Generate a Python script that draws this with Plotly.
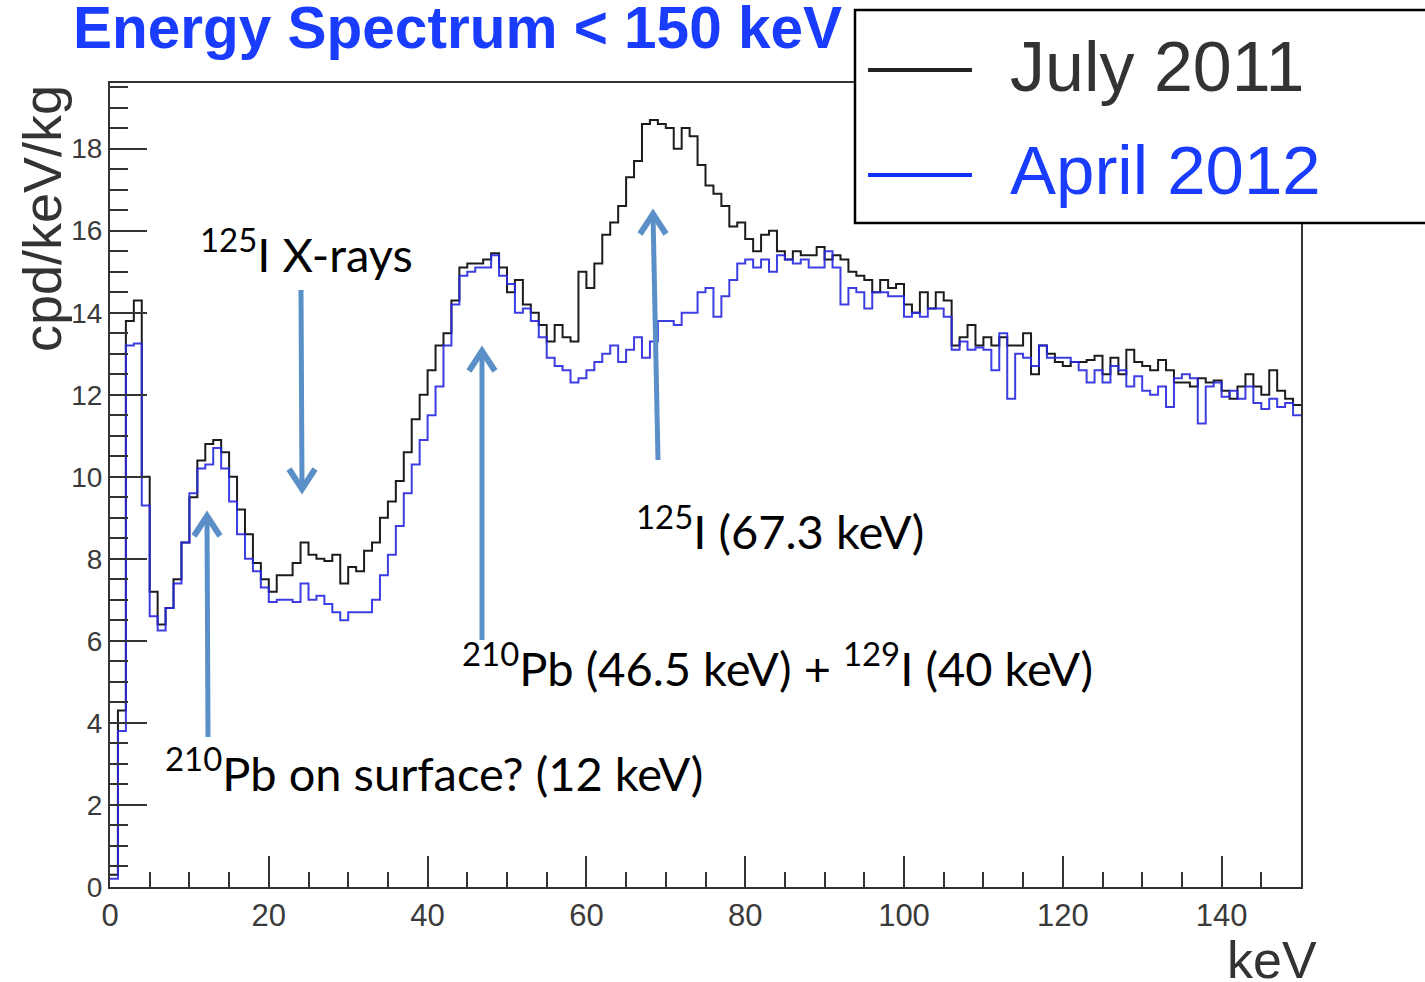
import numpy as np
import plotly.graph_objects as go

# ---------------- data (1 keV bins, 0-150 keV) ----------------
bin_width_kev = 1.0
july_2011 = [
    0.3, 4.3, 13.8, 14.3, 10.0, 7.2, 6.4, 6.8, 7.5, 8.4,
    9.5, 10.4, 10.8, 10.9, 10.6, 10.0, 9.2, 8.6, 7.9, 7.5,
    7.2, 7.6, 7.6, 7.9, 8.4, 8.1, 8.0, 7.95, 8.1, 7.4,
    7.8, 7.7, 8.2, 8.4, 9.0, 9.4, 9.9, 10.6, 11.4, 12.0,
    12.6, 13.2, 13.5, 14.3, 15.1, 15.2, 15.2, 15.3, 15.45, 15.1,
    14.5, 14.8, 14.2, 14.0, 13.7, 13.3, 13.7, 13.4, 13.3, 15.0,
    14.6, 15.2, 15.9, 16.2, 16.6, 17.3, 17.7, 18.6, 18.7, 18.6,
    18.5, 18.0, 18.5, 18.3, 17.6, 17.1, 16.9, 16.6, 16.1, 16.2,
    15.8, 15.5, 15.9, 16.0, 15.5, 15.3, 15.5, 15.4, 15.4, 15.6,
    15.3, 15.4, 15.3, 15.0, 14.9, 14.8, 14.5, 14.8, 14.6, 14.7,
    14.2, 14.0, 14.5, 14.1, 14.5, 14.3, 13.2, 13.4, 13.7, 13.2,
    13.4, 13.2, 13.4, 13.2, 13.2, 13.5, 12.5, 13.2, 13.0, 12.8,
    12.7, 12.8, 12.8, 12.85, 12.95, 12.5, 12.9, 12.5, 13.1, 12.8,
    12.7, 12.6, 12.85, 12.6, 12.3, 12.3, 12.2, 12.4, 12.3, 12.35,
    12.1, 11.9, 12.2, 12.5, 12.2, 12.0, 12.6, 12.1, 11.9, 11.75,
]
april_2012 = [
    0.2, 3.8, 13.2, 13.25, 9.3, 6.6, 6.25, 6.8, 7.4, 8.4,
    9.6, 10.2, 10.3, 10.7, 10.2, 9.4, 8.6, 8.0, 7.7, 7.3,
    6.95, 7.0, 7.0, 6.95, 7.4, 7.0, 7.1, 6.9, 6.7, 6.5,
    6.7, 6.7, 6.7, 7.0, 7.6, 8.1, 8.8, 9.6, 10.3, 10.9,
    11.5, 12.2, 13.2, 14.2, 14.9, 15.0, 15.1, 15.1, 15.4, 14.9,
    14.7, 14.0, 14.1, 13.8, 13.4, 12.9, 12.7, 12.6, 12.3, 12.4,
    12.6, 12.8, 13.0, 13.2, 12.8, 13.1, 13.4, 12.9, 13.3, 13.8,
    13.8, 13.7, 14.0, 14.0, 14.5, 14.6, 13.9, 14.4, 14.8, 15.2,
    15.3, 15.1, 15.3, 15.0, 15.4, 15.3, 15.2, 15.3, 15.1, 15.1,
    15.5, 15.1, 14.2, 14.6, 14.5, 14.1, 14.5, 14.5, 14.4, 14.4,
    13.9, 14.0, 13.9, 14.1, 14.1, 13.9, 13.1, 13.3, 13.1, 13.15,
    13.1, 12.6, 13.5, 11.9, 13.0, 12.9, 12.7, 13.2, 12.9, 12.9,
    12.9, 12.8, 12.6, 12.3, 12.6, 12.3, 12.7, 12.6, 12.2, 12.45,
    12.1, 12.0, 12.2, 11.7, 12.4, 12.5, 12.4, 11.3, 12.2, 12.3,
    11.95, 12.1, 11.9, 12.2, 11.8, 11.65, 11.9, 11.7, 11.8, 11.5,
]
x_tick_vals = [0, 20, 40, 60, 80, 100, 120, 140]
y_tick_vals = [0, 2, 4, 6, 8, 10, 12, 14, 16, 18]
series_names = ["July 2011", "April 2012"]

# ---------------- geometry helpers (pixel -> paper) ----------------
W, H = 1425, 982
L, R, T, B = 110, 1301, 83, 887


def pxx(x):
    return (x - L) / (R - L)


def pxy(y):
    return (B - y) / (B - T)


edges = np.arange(len(july_2011) + 1) * bin_width_kev

BLACK = "#1c1c1c"
BLUE = "rgba(40,40,225,0.9)"
ARROW = "#5b8fc7"
AXIS = "#333333"

fig = go.Figure()
fig.add_trace(go.Scatter(x=edges, y=july_2011 + [july_2011[-1]], mode="lines",
                         line=dict(color=BLACK, width=2, shape="hv"),
                         name=series_names[0], showlegend=False))
fig.add_trace(go.Scatter(x=edges, y=april_2012 + [april_2012[-1]], mode="lines",
                         line=dict(color=BLUE, width=2, shape="hv"),
                         name=series_names[1], showlegend=False))

tickfont_x = dict(family="Liberation Sans, Arial, sans-serif", size=31, color="#3a3a3a")
tickfont_y = dict(family="Liberation Sans, Arial, sans-serif", size=28, color="#3a3a3a")

fig.update_layout(
    width=W, height=H,
    margin=dict(l=L, r=W - R, t=T, b=H - B, pad=0),
    paper_bgcolor="white", plot_bgcolor="white",
    showlegend=False,
    xaxis=dict(range=[0, 150], tickvals=x_tick_vals, ticks="inside", ticklen=31,
               tickwidth=2, tickcolor=AXIS, showline=True, linecolor=AXIS, linewidth=2,
               mirror=True, showgrid=False, zeroline=False, tickfont=tickfont_x,
               minor=dict(dtick=5, ticks="inside", ticklen=15, tickwidth=2,
                          tickcolor=AXIS, showgrid=False)),
    yaxis=dict(range=[0, 19.6], tickvals=y_tick_vals, ticks="inside", ticklen=37,
               tickwidth=2, tickcolor=AXIS, showline=True, linecolor=AXIS, linewidth=2,
               mirror=True, showgrid=False, zeroline=False, tickfont=tickfont_y,
               minor=dict(dtick=0.5, ticks="inside", ticklen=18, tickwidth=2,
                          tickcolor=AXIS, showgrid=False)),
)

shapes = []
annotations = []

# ---------- legend box ----------
shapes.append(dict(type="rect", xref="paper", yref="paper", layer="above",
                   x0=pxx(855), x1=pxx(1440), y0=pxy(223), y1=pxy(10),
                   line=dict(color="black", width=2.5), fillcolor="white"))
shapes.append(dict(type="line", xref="paper", yref="paper", layer="above",
                   x0=pxx(868), x1=pxx(972), y0=pxy(70), y1=pxy(70),
                   line=dict(color="#222222", width=4)))
shapes.append(dict(type="line", xref="paper", yref="paper", layer="above",
                   x0=pxx(868), x1=pxx(972), y0=pxy(175), y1=pxy(175),
                   line=dict(color="#1030ff", width=4)))
legfont = "Liberation Sans, Arial, sans-serif"
annotations.append(dict(text=series_names[0], xref="paper", yref="paper",
                        x=pxx(1008), y=pxy(67), xanchor="left", yanchor="middle",
                        showarrow=False, font=dict(family=legfont, size=70, color="#333333")))
annotations.append(dict(text=series_names[1], xref="paper", yref="paper",
                        x=pxx(1008), y=pxy(171), xanchor="left", yanchor="middle",
                        showarrow=False, font=dict(family=legfont, size=69, color="#1a3cff")))

# ---------- title / axis titles ----------
annotations.append(dict(text="<b>Energy Spectrum &lt; 150 keV</b>", xref="paper", yref="paper",
                        x=pxx(71), y=pxy(28), xanchor="left", yanchor="middle",
                        showarrow=False, font=dict(family=legfont, size=58.5, color="#1a3cff")))
annotations.append(dict(text="cpd/keV/kg", xref="paper", yref="paper", textangle=-90,
                        x=pxx(42), y=pxy(219), xanchor="center", yanchor="middle",
                        showarrow=False, font=dict(family=legfont, size=54, color="#333333")))
annotations.append(dict(text="keV", xref="paper", yref="paper",
                        x=pxx(1272), y=pxy(960), xanchor="center", yanchor="middle",
                        showarrow=False, font=dict(family=legfont, size=52, color="#333333")))

# ---------- physics annotations ----------
afont = dict(family="Lato, Carlito, sans-serif", size=47, color="black")
notes = [
    ("<sup>125</sup>I X-rays", 198, 251),
    ("<sup>125</sup>I (67.3 keV)", 634, 528),
    ("<sup>210</sup>Pb (46.5 keV) + <sup>129</sup>I (40 keV)", 460, 665),
    ("<sup>210</sup>Pb on surface? (12 keV)", 163, 770),
]
for txt, xl, yc in notes:
    annotations.append(dict(text=txt, xref="paper", yref="paper", x=pxx(xl), y=pxy(yc),
                            xanchor="left", yanchor="middle", showarrow=False, font=afont))

# ---------- arrows (shaft start, tip) in pixels ----------
arrows = [
    ((301, 290), (302, 489)),
    ((208, 737), (207, 516)),
    ((482, 640), (482, 351)),
    ((658, 460), (653, 214)),
]
for (x0, y0), (x1, y1) in arrows:
    shapes.append(dict(type="line", xref="paper", yref="paper", layer="above",
                       x0=pxx(x0), y0=pxy(y0), x1=pxx(x1), y1=pxy(y1),
                       line=dict(color=ARROW, width=5)))
    d = 1 if y1 > y0 else -1  # pointing down if tip below start
    ax_l = (x1 - 13, y1 - d * 20)
    ax_r = (x1 + 13, y1 - d * 20)
    path = (f"M {pxx(ax_l[0])},{pxy(ax_l[1])} L {pxx(x1)},{pxy(y1)} "
            f"L {pxx(ax_r[0])},{pxy(ax_r[1])}")
    shapes.append(dict(type="path", xref="paper", yref="paper", layer="above",
                       path=path, line=dict(color=ARROW, width=6)))

fig.update_layout(shapes=shapes, annotations=annotations)
fig.write_html("out.html")
